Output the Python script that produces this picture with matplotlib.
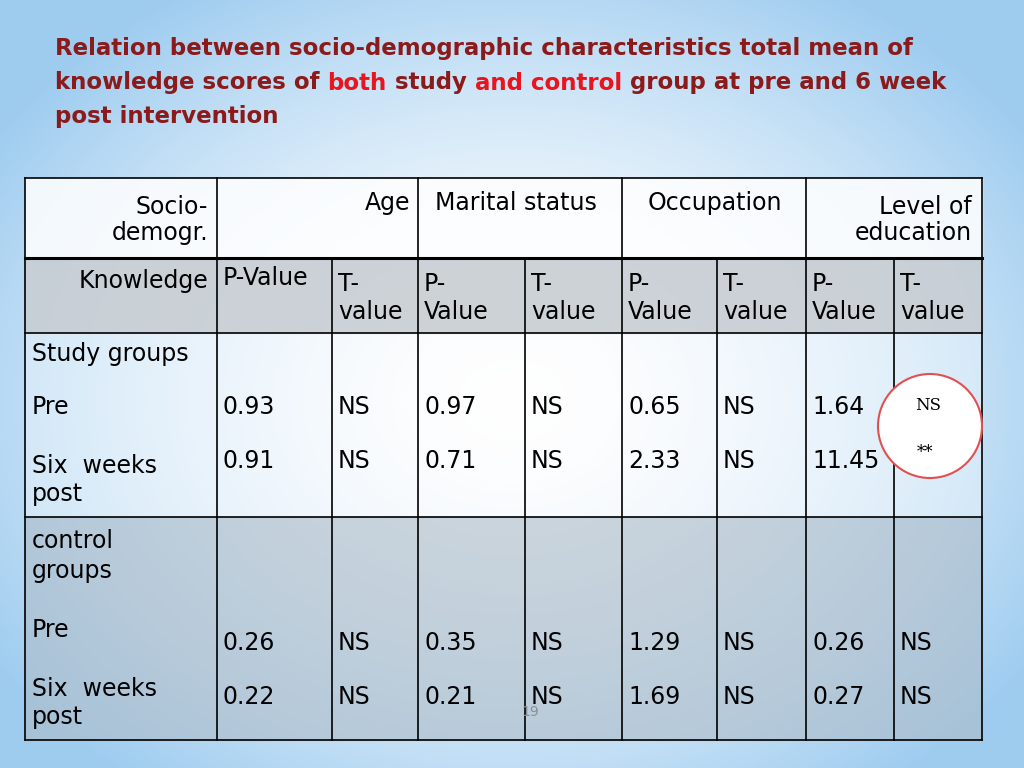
import numpy as np
import matplotlib.pyplot as plt
from matplotlib.patches import Rectangle, Circle

# table data
groups = ["Study groups", "control groups"]
row_labels = ["Pre", "Six  weeks\npost"]
characteristics = ["Age", "Marital status", "Occupation", "Level of\neducation"]
study_p = [["0.93", "0.97", "0.65", "1.64"], ["0.91", "0.71", "2.33", "11.45"]]
study_t = [["NS", "NS", "NS", ""], ["NS", "NS", "NS", ""]]
control_p = [["0.26", "0.35", "1.29", "0.26"], ["0.22", "0.21", "1.69", "0.27"]]
control_t = [["NS", "NS", "NS", "NS"], ["NS", "NS", "NS", "NS"]]
circled = ["NS", "**"]

fig = plt.figure(figsize=(10.24, 7.68), dpi=100)
ax = fig.add_axes([0, 0, 1, 1])
ax.set_xlim(0, 1024)
ax.set_ylim(768, 0)
ax.axis("off")

# background: white centre fading to light blue
yy, xx = np.mgrid[0:768, 0:1024]
r = np.sqrt(((xx - 512) / 620.0) ** 2 + ((yy - 400) / 480.0) ** 2)
t = np.clip(r, 0, 1) ** 1.6
edge = np.array([0.62, 0.80, 0.94])
img = (1 - t)[..., None] * np.ones(3) + t[..., None] * edge
ax.imshow(img, extent=(0, 1024, 768, 0), zorder=0)

# title
dark = "#8b1a1a"
red = "#e8141e"
TS = 16.5
tkw = dict(fontsize=TS, fontweight="bold", family="DejaVu Sans", va="center")
ax.text(55, 48, "Relation between socio-demographic characteristics total mean of", color=dark, **tkw)
parts = [("knowledge scores of ", dark), ("both", red), (" study ", dark), ("and control", red),
         (" group at pre and 6 week", dark)]
prev = ax.text(55, 83, parts[0][0], color=parts[0][1], **tkw)
for s, c in parts[1:]:
    prev = ax.annotate(s, xycoords=prev, xy=(1, 0.5), va="center", ha="left", color=c,
                       fontsize=TS, fontweight="bold", family="DejaVu Sans")
ax.text(55, 117, "post intervention", color=dark, **tkw)

# table geometry
xs = [25, 217, 332, 418, 525, 622, 717, 806, 894, 982]
ys = [178, 258, 333, 517, 740]
ax.add_patch(Rectangle((25, 178), 957, 80, color="white", alpha=0.85, zorder=1))
ax.add_patch(Rectangle((25, 258), 957, 75, color="#c9ced3", alpha=0.9, zorder=1))
ax.add_patch(Rectangle((25, 333), 957, 184, color="white", alpha=0.35, zorder=1))
ax.add_patch(Rectangle((25, 517), 957, 223, color="#aebcc8", alpha=0.6, zorder=1))

lw = 1.2
for y in ys:
    ax.plot([25, 982], [y, y], color="black", lw=2.2 if y == 258 else lw, zorder=3)
for i, x in enumerate(xs):
    top = 178 if x in (25, 217, 418, 622, 806, 982) else 258
    ax.plot([x, x], [top, 740], color="black", lw=lw, zorder=3)

FS = 17
fkw = dict(fontsize=FS, family="DejaVu Sans", color="black", zorder=4)
ax.text(208, 220, "Socio-\ndemogr.", ha="right", va="center", linespacing=1.15, **fkw)
ax.text(410, 203, characteristics[0], ha="right", va="center", **fkw)
ax.text(435, 203, characteristics[1], ha="left", va="center", **fkw)
ax.text(648, 203, characteristics[2], ha="left", va="center", **fkw)
ax.text(972, 220, characteristics[3], ha="right", va="center", linespacing=1.15, **fkw)

ax.text(208, 281, "Knowledge", ha="right", va="center", **fkw)
ax.text(223, 278, "P-Value", ha="left", va="center", **fkw)
for k in range(4):
    xp, xt = xs[1 + 2 * k] + 6, xs[2 + 2 * k] + 6
    if k > 0:
        ax.text(xp, 298, "P-\nValue", ha="left", va="center", linespacing=1.25, **fkw)
    ax.text(xt, 298, "T-\nvalue", ha="left", va="center", linespacing=1.25, **fkw)

# study rows
ax.text(32, 354, groups[0], ha="left", va="center", **fkw)
for j, y in enumerate([407, 461]):
    ax.text(32, y + (19 if j else 0), row_labels[j], ha="left", va="center", linespacing=1.25, **fkw)
    for k in range(4):
        ax.text(xs[1 + 2 * k] + 6, y, study_p[j][k], ha="left", va="center", **fkw)
        ax.text(xs[2 + 2 * k] + 6, y, study_t[j][k], ha="left", va="center", **fkw)

ax.add_patch(Circle((930, 426), 52, facecolor="white", edgecolor="#e05050", lw=1.5, zorder=5))
ax.text(928, 405, circled[0], ha="center", va="center", fontsize=12, family="DejaVu Serif", zorder=6)
ax.text(925, 453, circled[1], ha="center", va="center", fontsize=12, family="DejaVu Serif", zorder=6)

# control rows
ax.text(32, 556, "control\ngroups", ha="left", va="center", linespacing=1.35, **fkw)
ax.text(32, 630, row_labels[0], ha="left", va="center", **fkw)
ax.text(32, 703, row_labels[1], ha="left", va="center", linespacing=1.25, **fkw)
for j, y in enumerate([643, 697]):
    for k in range(4):
        ax.text(xs[1 + 2 * k] + 6, y, control_p[j][k], ha="left", va="center", **fkw)
        ax.text(xs[2 + 2 * k] + 6, y, control_t[j][k], ha="left", va="center", **fkw)

ax.text(530, 712, "19", ha="center", va="center", fontsize=10, color="#8a8f96", zorder=4)

fig.savefig("out.png", dpi=100)
